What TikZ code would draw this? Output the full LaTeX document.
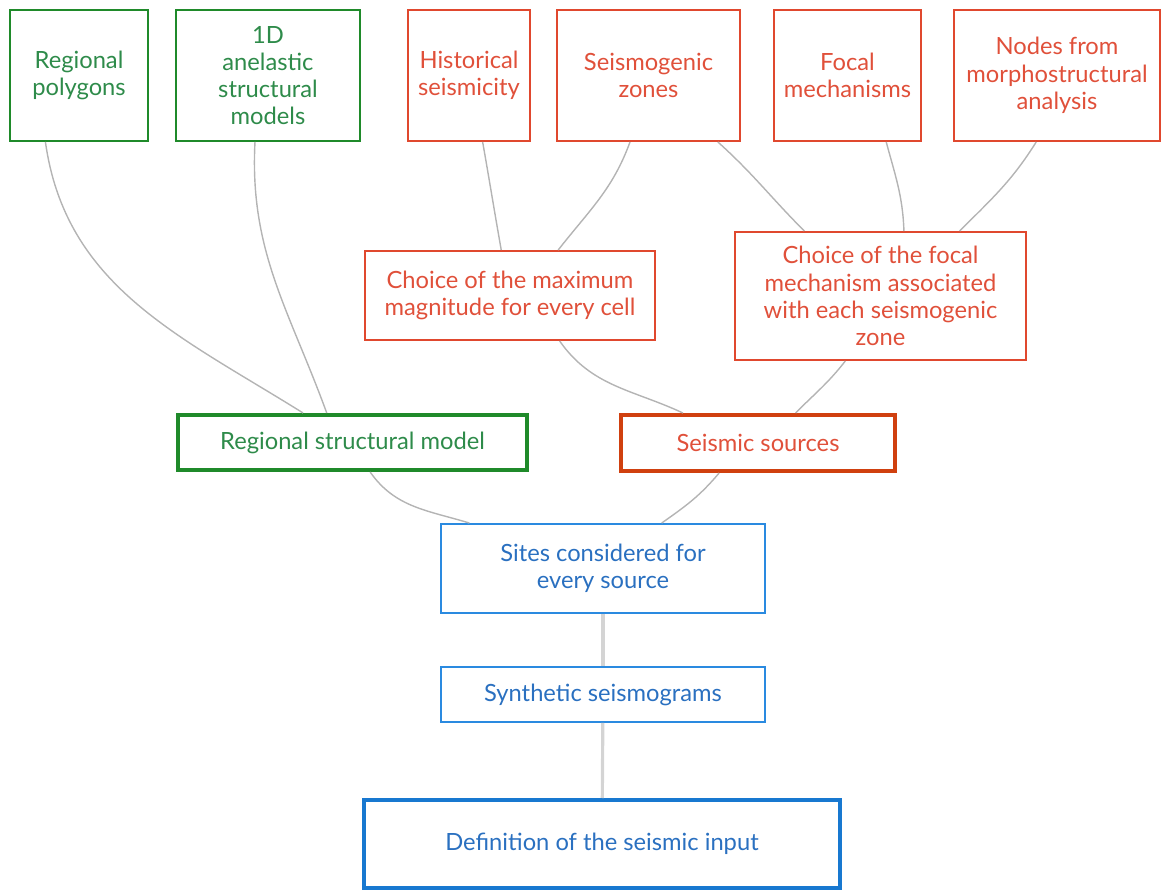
\documentclass[tikz,border=0pt]{standalone}
\usepackage{fontspec}
\setmainfont{Lato}
\usepackage[HTML]{xcolor}
\usepackage{tikz}
\usetikzlibrary{calc}

\definecolor{boxgreen}{HTML}{1F8A2A}
\definecolor{txtgreen}{HTML}{2E8B4A}
\definecolor{boxred}{HTML}{E0482E}
\definecolor{darkred}{HTML}{D0400F}
\definecolor{txtred}{HTML}{E0503A}
\definecolor{boxblue}{HTML}{2A8AE0}
\definecolor{darkblue}{HTML}{1878D0}
\definecolor{txtblue}{HTML}{2A70C0}
\definecolor{linkgrey}{HTML}{B4B4B4}
\definecolor{stemgrey}{HTML}{D4D4D4}

\begin{document}
\begin{tikzpicture}[x=0.02cm, y=-0.02cm,
  every node/.style={font=\fontsize{13.5}{15.5}\selectfont, align=center, inner sep=2pt},
  greenbox/.style={draw=boxgreen, line width=1.1pt, text=txtgreen},
  redbox/.style={draw=boxred, line width=1.1pt, text=txtred},
  bluebox/.style={draw=boxblue, line width=1.1pt, text=txtblue},
  link/.style={draw=linkgrey, line width=0.8pt},
  stem/.style={draw=stemgrey, line width=1.8pt}]
\useasboundingbox (0,0) rectangle (1162,889);

% Data at the top
\node[greenbox, minimum width=2.76cm, minimum height=2.62cm] (rp) at (79,75.5) {Regional\\polygons};
\node[greenbox, minimum width=3.68cm, minimum height=2.62cm] (ad) at (268,75.5) {1D\\anelastic\\structural\\models};
\node[redbox, minimum width=2.44cm, minimum height=2.62cm] (hs) at (469,75.5) {Historical\\seismicity};
\node[redbox, minimum width=3.66cm, minimum height=2.62cm] (sz) at (648.5,75.5) {Seismogenic\\zones};
\node[redbox, minimum width=2.94cm, minimum height=2.62cm] (fm) at (847.5,75.5) {Focal\\mechanisms};
\node[redbox, minimum width=4.12cm, minimum height=2.62cm] (nm) at (1057,75.5) {Nodes from\\morphostructural\\analysis};

% Choices
\node[redbox, minimum width=5.8cm, minimum height=1.78cm] (cmax) at (510,295.5) {Choice of the maximum\\magnitude for every cell};
\node[redbox, minimum width=5.82cm, minimum height=2.56cm] (cfoc) at (880.5,296) {Choice of the focal\\mechanism associated\\with each seismogenic\\zone};

% Models and sources
\node[greenbox, line width=2.3pt, minimum width=6.98cm, minimum height=1.1cm] (rsm) at (352.5,442.5) {Regional structural model};
\node[redbox, draw=darkred, line width=2.3pt, minimum width=5.48cm, minimum height=1.12cm] (ss) at (758,443) {Seismic sources};

% Output chain
\node[bluebox, minimum width=6.48cm, minimum height=1.78cm] (sites) at (603,568.5) {Sites considered for\\every source};
\node[bluebox, minimum width=6.48cm, minimum height=1.1cm] (synth) at (603,694.5) {Synthetic seismograms};
\node[bluebox, draw=darkblue, line width=2.3pt, minimum width=9.52cm, minimum height=1.76cm] (def) at (602,844) {Definition of the seismic input};

% Links
\draw[link] ($(rp.south west)!0.26!(rp.south east)$) to[out=-82, in=148] ($(rsm.north west)!0.36!(rsm.north east)$);
\draw[link] ($(ad.south west)!0.43!(ad.south east)$) to[out=-93, in=110] ($(rsm.north west)!0.427!(rsm.north east)$);
\draw[link] ($(hs.south west)!0.61!(hs.south east)$) to[out=-80, in=100] ($(cmax.north west)!0.47!(cmax.north east)$);
\draw[link] ($(sz.south west)!0.4!(sz.south east)$) to[out=-110, in=52] ($(cmax.north west)!0.665!(cmax.north east)$);
\draw[link] ($(sz.south west)!0.875!(sz.south east)$) to[out=-42, in=135] ($(cfoc.north west)!0.24!(cfoc.north east)$);
\draw[link] ($(fm.south west)!0.76!(fm.south east)$) to[out=-75, in=92] ($(cfoc.north west)!0.58!(cfoc.north east)$);
\draw[link] ($(nm.south west)!0.4!(nm.south east)$) to[out=-122, in=45] ($(cfoc.north west)!0.77!(cfoc.north east)$);
\draw[link] ($(cmax.south west)!0.67!(cmax.south east)$) to[out=-55, in=155] ($(ss.north west)!0.23!(ss.north east)$);
\draw[link] ($(cfoc.south west)!0.38!(cfoc.south east)$) to[out=-128, in=45] ($(ss.north west)!0.635!(ss.north east)$);
\draw[link] ($(rsm.south west)!0.55!(rsm.south east)$) to[out=-55, in=163] ($(sites.north west)!0.09!(sites.north east)$);
\draw[link] ($(ss.south west)!0.36!(ss.south east)$) to[out=-130, in=35] ($(sites.north west)!0.68!(sites.north east)$);
\draw[stem] (sites) -- (synth);
\draw[stem] (synth) -- (def);
\end{tikzpicture}
\end{document}
